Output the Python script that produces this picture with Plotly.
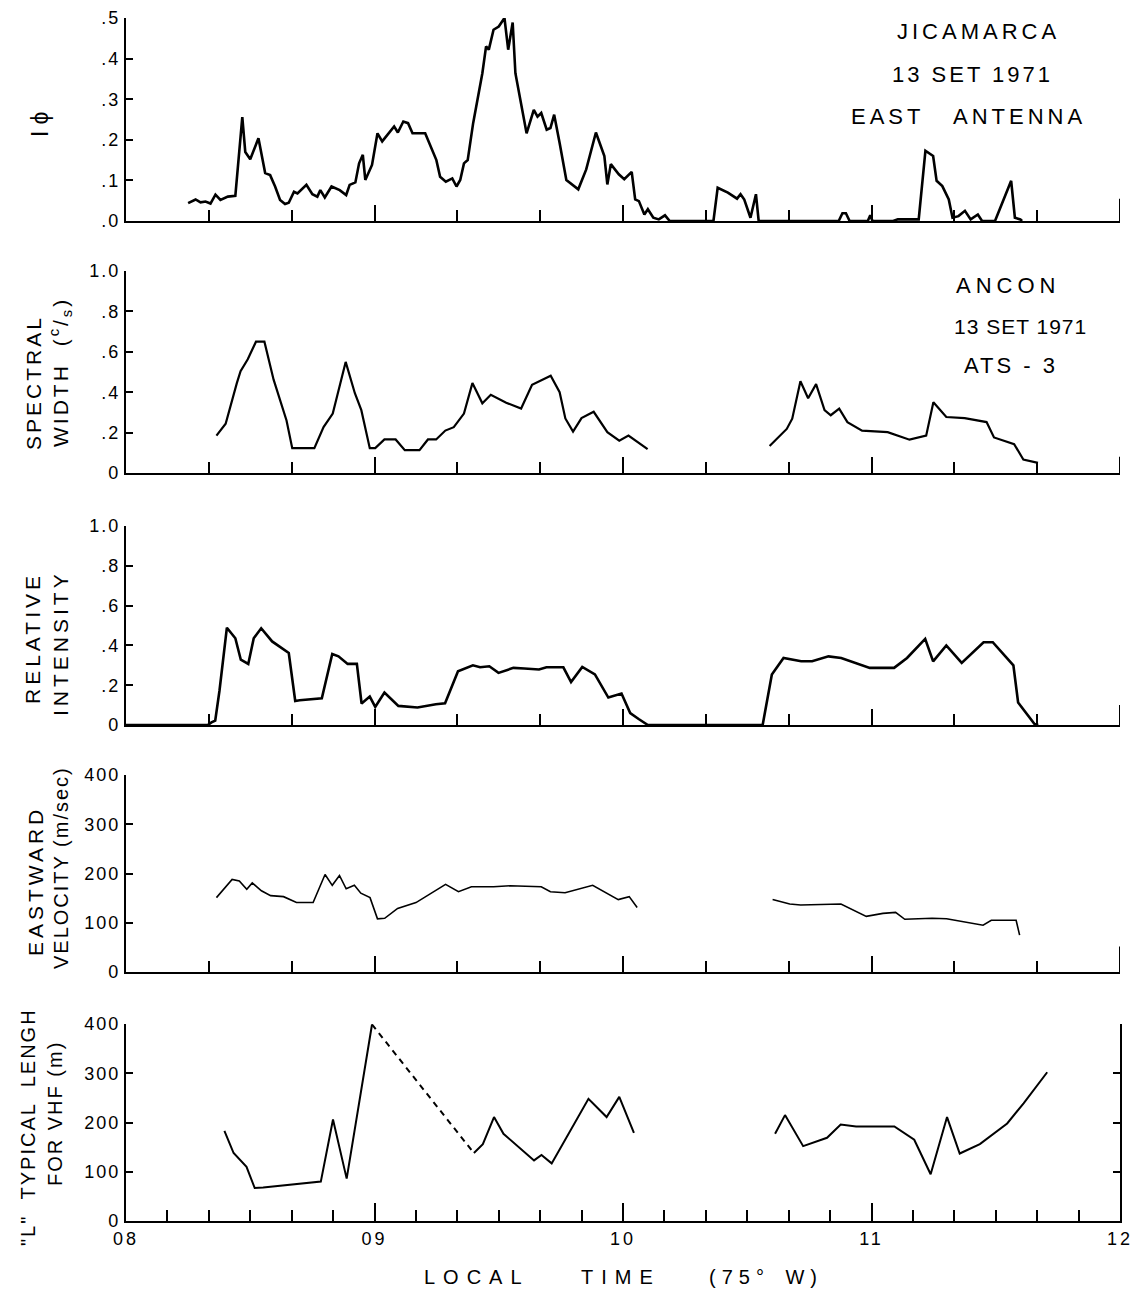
import plotly.graph_objects as go

W, H = 1136, 1292
FONT = "Liberation Sans"

# ---------------- data (local time in hours, 75 W) ----------------
# Jicamarca, east antenna: scintillation index I-phi
iphi_t = [8.25, 8.28, 8.30, 8.32, 8.34, 8.36, 8.38, 8.41, 8.44, 8.45, 8.468, 8.48, 8.50, 8.533,
          8.56, 8.58, 8.60, 8.62, 8.64, 8.655, 8.676, 8.69, 8.726, 8.75, 8.77, 8.782, 8.80, 8.827,
          8.86, 8.886, 8.90, 8.923, 8.938, 8.953, 8.963, 8.99, 9.012, 9.031, 9.055, 9.079, 9.094,
          9.116, 9.135, 9.153, 9.204, 9.227, 9.249, 9.264, 9.287, 9.313, 9.33, 9.345, 9.36, 9.375,
          9.397, 9.434, 9.449, 9.46, 9.479, 9.50, 9.523, 9.538, 9.556, 9.567, 9.612, 9.641, 9.656,
          9.671, 9.693, 9.708, 9.723, 9.745, 9.772, 9.82, 9.852, 9.891, 9.925, 9.937, 9.951, 9.983,
          10.005, 10.035, 10.049, 10.064, 10.086, 10.10, 10.122, 10.144, 10.169, 10.188, 10.364,
          10.381, 10.422, 10.459, 10.473, 10.488, 10.513, 10.535, 10.546, 10.868, 10.883, 10.897,
          10.912, 10.985, 10.995, 11.004, 11.087, 11.106, 11.19, 11.217, 11.248, 11.262, 11.285,
          11.311, 11.326, 11.35, 11.376, 11.399, 11.428, 11.445, 11.497, 11.562, 11.577, 11.599,
          11.606]
iphi_v = [0.044, 0.053, 0.046, 0.048, 0.043, 0.065, 0.052, 0.060, 0.062, 0.130, 0.256, 0.170,
          0.152, 0.204, 0.118, 0.113, 0.085, 0.052, 0.042, 0.045, 0.072, 0.068, 0.089, 0.066,
          0.060, 0.076, 0.058, 0.085, 0.076, 0.064, 0.089, 0.095, 0.142, 0.163, 0.101, 0.138,
          0.216, 0.196, 0.216, 0.233, 0.218, 0.245, 0.241, 0.216, 0.216, 0.183, 0.150, 0.109,
          0.097, 0.105, 0.085, 0.101, 0.142, 0.150, 0.241, 0.364, 0.430, 0.422, 0.471, 0.479,
          0.500, 0.422, 0.489, 0.364, 0.216, 0.274, 0.257, 0.266, 0.225, 0.229, 0.262, 0.192,
          0.101, 0.078, 0.127, 0.218, 0.160, 0.090, 0.140, 0.115, 0.103, 0.121, 0.053, 0.049,
          0.016, 0.029, 0.008, 0.004, 0.014, 0.0, 0.0, 0.082, 0.070, 0.055, 0.066, 0.053, 0.008,
          0.066, 0.0, 0.0, 0.019, 0.019, 0.0, 0.0, 0.014, 0.0, 0.0, 0.004, 0.004, 0.173, 0.160,
          0.099, 0.086, 0.053, 0.008, 0.012, 0.025, 0.004, 0.016, 0.0, 0.0, 0.099, 0.008, 0.004,
          0.0]

# Ancon, ATS-3: spectral width (c/s); None marks the data gap
sw_t = [8.364, 8.401, 8.446, 8.461, 8.49, 8.523, 8.557, 8.594, 8.646, 8.669, 8.758, 8.795, 8.832,
        8.884, 8.921, 8.947, 8.981, 9.003, 9.04, 9.085, 9.122, 9.181, 9.215, 9.248, 9.285, 9.319,
        9.36, 9.394, 9.434, 9.468, 9.53, 9.59, 9.634, 9.709, 9.745, 9.768, 9.799, 9.833, 9.882,
        9.937, 9.985, 10.022, 10.099, None,
        10.59, 10.659, 10.681, 10.714, 10.745, 10.777, 10.811, 10.836, 10.87, 10.903, 10.962,
        11.065, 11.153, 11.22, 11.249, 11.301, 11.375, 11.463, 11.493, 11.574, 11.611, 11.67]
sw_v = [0.185, 0.244, 0.445, 0.504, 0.563, 0.65, 0.65, 0.462, 0.26, 0.123, 0.123, 0.227, 0.294,
        0.55, 0.395, 0.311, 0.123, 0.123, 0.166, 0.166, 0.113, 0.113, 0.166, 0.166, 0.21, 0.227,
        0.294, 0.445, 0.345, 0.387, 0.348, 0.319, 0.437, 0.482, 0.40, 0.27, 0.205, 0.272, 0.303,
        0.202, 0.16, 0.185, 0.118, None,
        0.134, 0.218, 0.269, 0.454, 0.37, 0.44, 0.311, 0.286, 0.319, 0.252, 0.21,
        0.202, 0.165, 0.185, 0.35, 0.277, 0.272, 0.252, 0.176, 0.143, 0.067, 0.05]

# Ancon, ATS-3: relative intensity
ri_t = [8.0, 8.329, 8.344, 8.359, 8.376, 8.406, 8.44, 8.462, 8.492, 8.514, 8.544, 8.588, 8.655,
        8.681, 8.699, 8.788, 8.83, 8.855, 8.892, 8.929, 8.948, 8.981, 9.003, 9.04, 9.096, 9.173,
        9.247, 9.284, 9.336, 9.396, 9.425, 9.462, 9.499, 9.559, 9.603, 9.662, 9.692, 9.76, 9.791,
        9.836, 9.887, 9.941, 9.994, 10.029, 10.063, 10.10, 10.562, 10.599, 10.646, 10.717, 10.761,
        10.827, 10.878, 10.993, 11.091, 11.143, 11.216, 11.248, 11.301, 11.363, 11.451, 11.488,
        11.571, 11.59, 11.656, 11.671]
ri_v = [0.0, 0.0, 0.013, 0.022, 0.171, 0.489, 0.436, 0.328, 0.307, 0.436, 0.486, 0.42, 0.362,
        0.121, 0.124, 0.134, 0.357, 0.345, 0.307, 0.307, 0.108, 0.143, 0.091, 0.163, 0.096, 0.088,
        0.104, 0.109, 0.27, 0.30, 0.29, 0.295, 0.262, 0.287, 0.284, 0.279, 0.29, 0.29, 0.216,
        0.292, 0.254, 0.138, 0.158, 0.06, 0.03, 0.0, 0.0, 0.254, 0.337, 0.32, 0.32,
        0.345, 0.337, 0.287, 0.287, 0.337, 0.433, 0.32, 0.40, 0.312, 0.416, 0.416,
        0.30, 0.113, 0.005, 0.0]

# eastward drift velocity (m/sec)
vel_t = [8.364, 8.427, 8.456, 8.486, 8.508, 8.545, 8.582, 8.634, 8.686, 8.753, 8.801, 8.83, 8.859,
         8.886, 8.919, 8.945, 8.982, 9.012, 9.041, 9.093, 9.167, 9.227, 9.286, 9.338, 9.39, 9.479,
         9.545, 9.671, 9.708, 9.767, 9.82, 9.878, 9.981, 10.025, 10.057, None,
         10.602, 10.671, 10.715, 10.877, 10.979, 11.046, 11.097, 11.134, 11.244, 11.302, 11.449,
         11.482, 11.582, 11.596]
vel_v = [151, 188, 185, 168, 181, 165, 155, 153, 141, 141, 198, 176, 196,
         169, 176, 160, 151, 108, 109, 129, 141, 160, 178, 163, 173, 173,
         175, 173, 163, 161, 168, 176, 147, 153, 131, None,
         147, 138, 136, 138, 113, 119, 121, 107, 109, 108, 95,
         105, 105, 75]

# "L" typical length for VHF (m); the interval 08:59-09:24 is interpolated (dashed)
len_t = [8.396, 8.433, 8.485, 8.518, 8.552, 8.784, 8.833, 8.888, 8.99, None,
         9.40, 9.436, 9.481, 9.519, 9.642, 9.672, 9.713, 9.861, 9.934, 9.985, 10.044, None,
         10.612, 10.652, 10.725, 10.821, 10.876, 10.938, 11.092, 11.172, 11.238, 11.304, 11.355,
         11.436, 11.546, 11.612, 11.707]
len_v = [183, 138, 110, 67, 68, 80, 206, 86, 399, None,
         138, 156, 211, 177, 123, 134, 117, 248, 211, 252, 179, None,
         177, 215, 152, 169, 196, 192, 192, 165, 95, 211, 137,
         156, 198, 239, 302]
len_dash_t = [8.99, 9.40]
len_dash_v = [399, 138]

hour_vals = [8, 9, 10, 11, 12]
hour_text = ["08", "09", "10", "11", "12"]

# ---------------- figure ----------------
def py(y):
    return 1 - y / H


def px(x):
    return x / W


def spaced(s, sp, ws=0):
    style = "letter-spacing:%spx" % sp
    if ws:
        style += ";word-spacing:%spx" % ws
    return '<span style="%s">%s</span>' % (style, s)


fig = go.Figure()

panels = [
    dict(t=iphi_t, v=iphi_v, w=2.6, rng=[0, 0.5], dom=(221, 18), end=0.11,
         tv=[0, 0.1, 0.2, 0.3, 0.4, 0.5], tt=[".0", ".1", ".2", ".3", ".4", ".5"]),
    dict(t=sw_t, v=sw_v, w=2.2, rng=[0, 1], dom=(473, 271), end=0.08,
         tv=[0, 0.2, 0.4, 0.6, 0.8, 1.0], tt=["0", ".2", ".4", ".6", ".8", "1.0"]),
    dict(t=ri_t, v=ri_v, w=2.6, rng=[0, 1], dom=(725, 526), end=0.1,
         tv=[0, 0.2, 0.4, 0.6, 0.8, 1.0], tt=["0", ".2", ".4", ".6", ".8", "1.0"]),
    dict(t=vel_t, v=vel_v, w=1.6, rng=[0, 400], dom=(972, 775), end=0.13,
         tv=[0, 100, 200, 300, 400], tt=["0", "100", "200", "300", "400"]),
    dict(t=len_t, v=len_v, w=2.0, rng=[0, 400], dom=(1221, 1024), end=None,
         tv=[0, 100, 200, 300, 400], tt=["0", "100", "200", "300", "400"]),
]

x_dom = [px(126), px(1120)]
layout_axes = {}
shapes = []
for i, p in enumerate(panels, start=1):
    sfx = "" if i == 1 else str(i)
    fig.add_trace(go.Scatter(x=p["t"], y=p["v"], mode="lines", connectgaps=False,
                             line=dict(color="black", width=p["w"]),
                             xaxis="x" + sfx, yaxis="y" + sfx,
                             showlegend=False, hoverinfo="skip"))
    last = i == len(panels)
    xa = dict(
        domain=x_dom, range=[8, 12], anchor="y" + sfx, automargin=False,
        showline=True, linecolor="black", linewidth=2.2,
        showgrid=False, zeroline=False,
        tickmode="array", tickvals=hour_vals,
        showticklabels=last,
        ticks="inside", ticklen=(18 if last else 16), tickwidth=1.8, tickcolor="black",
        minor=dict(tick0=8, dtick=(1 / 6 if last else 1 / 3), ticks="inside",
                   ticklen=11, tickwidth=1.5, tickcolor="black"),
        tickfont=dict(family=FONT, size=18, color="black"),
        fixedrange=True,
    )
    if last:
        xa["ticktext"] = [spaced(s, 3) for s in hour_text]
        xa["ticklabelstandoff"] = 0
    if i > 1:
        xa["matches"] = "x"
    layout_axes["xaxis" + sfx] = xa
    layout_axes["yaxis" + sfx] = dict(
        domain=[py(p["dom"][0]), py(p["dom"][1])], range=p["rng"], anchor="x" + sfx,
        automargin=False,
        showline=True, linecolor="black", linewidth=2.2,
        showgrid=False, zeroline=False,
        tickmode="array", tickvals=p["tv"], ticktext=[spaced(s, 2) for s in p["tt"]],
        ticks="inside", ticklen=7, tickwidth=1.5, tickcolor="black",
        tickfont=dict(family=FONT, size=18, color="black"),
        mirror=("ticks" if last else False),
        fixedrange=True,
    )
    if p["end"]:
        # short closing stroke at the right end of the time axis
        shapes.append(dict(type="line", xref="x" + sfx, yref="y" + sfx + " domain",
                           x0=hour_vals[-1], x1=hour_vals[-1], y0=0, y1=p["end"],
                           line=dict(color="black", width=2)))

# interpolated stretch of the length curve
fig.add_trace(go.Scatter(x=len_dash_t, y=len_dash_v, mode="lines",
                         line=dict(color="black", width=2.0, dash="6px,5px"),
                         xaxis="x5", yaxis="y5", showlegend=False, hoverinfo="skip"))

ann = []


def note(x, y, text, size, angle=0, sp=3, ws=0):
    ann.append(dict(x=px(x), y=py(y), xref="paper", yref="paper", showarrow=False,
                    text=spaced(text, sp, ws), textangle=angle,
                    xanchor="center", yanchor="middle", align="center",
                    font=dict(family=FONT, size=size, color="black")))


# station headers
note(978, 32, "JICAMARCA", 22, sp=4)
note(972, 74, "13 SET 1971", 22, sp=3)
note(968, 116, "EAST ANTENNA", 22, sp=4, ws=20)
note(1008, 285, "ANCON", 22, sp=5)
note(1020, 326, "13 SET 1971", 21, sp=1)
note(1011, 366, "ATS - 3", 22, sp=3)

# vertical axis titles, one column per line
note(40, 122, "I\u03d5", 23, angle=-90, sp=6)
note(33, 383, "SPECTRAL", 21, angle=-90, sp=3)
note(60, 372, "WIDTH (<sup>c</sup>/<sub>s</sub>)", 21, angle=-90, sp=3, ws=8)
note(33, 638, "RELATIVE", 21, angle=-90, sp=4)
note(60, 643, "INTENSITY", 21, angle=-90, sp=4)
note(35, 881, "EASTWARD", 21, angle=-90, sp=4)
note(61, 868, "VELOCITY (m/sec)", 20, angle=-90, sp=2)
note(28, 1127, '"L" TYPICAL LENGH', 20, angle=-90, sp=2, ws=8)
note(55, 1114, "FOR VHF (m)", 20, angle=-90, sp=2)

# time axis title, word by word
note(477, 1277, "LOCAL", 20, sp=8)
note(621, 1277, "TIME", 20, sp=8)
note(766, 1277, "(75\u00b0 W)", 20, sp=6, ws=4)

fig.update_layout(
    width=W, height=H,
    margin=dict(l=0, r=0, t=0, b=0),
    paper_bgcolor="white", plot_bgcolor="white",
    annotations=ann, shapes=shapes,
    **layout_axes,
)

fig.write_html("out.html")
